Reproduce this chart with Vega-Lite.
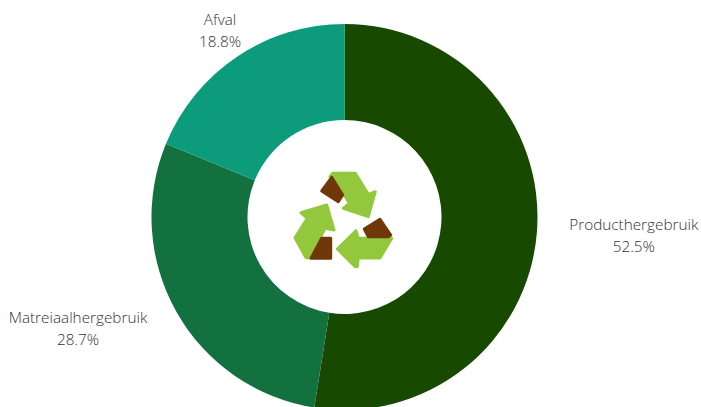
{"$schema":"https://vega.github.io/schema/vega-lite/v6.json","width":689,"height":434,"padding":{"left":0,"top":0,"right":12,"bottom":0},"autosize":"none","background":"white","config":{"view":{"stroke":null},"style":{"cell":{"stroke":null}}},"layer":[{"data":{"values":[{"name":"Producthergebruik","value":52.5,"rank":1,"label":"Producthergebruik\n52.5%"},{"name":"Matreiaalhergebruik","value":28.7,"rank":2,"label":"Matreiaalhergebruik\n28.7%"},{"name":"Afval","value":18.8,"rank":3,"label":"Afval\n18.8%"}]},"layer":[{"mark":{"type":"arc","innerRadius":97,"outerRadius":193},"encoding":{"theta":{"field":"value","type":"quantitative","stack":true},"order":{"field":"rank"},"color":{"field":"name","type":"nominal","scale":{"domain":["Producthergebruik","Matreiaalhergebruik","Afval"],"range":["#174a00","#13703f","#0c9c7b"]},"legend":null}}},{"mark":{"type":"text","radius":226,"font":"Open Sans","fontSize":15.3,"fontWeight":300,"fill":"#333333","lineBreak":"\n","lineHeight":22,"baseline":"middle","align":"center","dy":-9.5,"dx":{"expr":"datum.name==='Producthergebruik'?64:datum.name==='Afval'?1.4:-69.5"}},"encoding":{"theta":{"field":"value","type":"quantitative","stack":true},"order":{"field":"rank"},"text":{"field":"label"}}}]},{"data":{"values":[{"part":"pijl1"},{"part":"pijl2"},{"part":"pijl3"},{"part":"vak1"},{"part":"vak2"},{"part":"vak3"}]},"mark":{"type":"point","filled":true,"opacity":1,"strokeWidth":3,"strokeJoin":"round","size":4},"encoding":{"shape":{"field":"part","type":"nominal","legend":null,"scale":{"domain":["pijl1","pijl2","pijl3","vak1","vak2","vak3"],"range":["M-11.8 -43.7L10.8 -43.7L23.8 -22.7L30.8 -25.3L23.8 -0.3L-1.2 -8.7L4.8 -13.7L-7.2 -33.7L-14.5 -40.3Z","M47.2 21.3L35.5 41L13.8 41L12.8 49.7L10.8 49.7L-7.2 32L11.5 13.7L13.8 21.3Z","M-49.5 20.7L-37.2 1.3L-43.5 -4.3L-17.8 -12L-10.5 13L-19.5 11.3L-34.5 40.7L-38.5 40.7Z","M-22.8 -26L-12.8 -39.7L-1.8 -22L-6.2 -15.3Z","M19.8 12L35.5 2.3L46.2 18L43.8 19.7L23.8 19.7Z","M-22.8 21.3L-13.8 21.3L-13.8 41.3L-33.5 41.3Z"]}},"color":{"field":"part","type":"nominal","legend":null,"scale":{"domain":["pijl1","pijl2","pijl3","vak1","vak2","vak3"],"range":["#93c83c","#93c83c","#93c83c","#703808","#703808","#703808"]}},"stroke":{"field":"part","type":"nominal","legend":null,"scale":{"domain":["pijl1","pijl2","pijl3","vak1","vak2","vak3"],"range":["#93c83c","#93c83c","#93c83c","#703808","#703808","#703808"]}}}}],"resolve":{"scale":{"color":"independent","theta":"independent"}}}
